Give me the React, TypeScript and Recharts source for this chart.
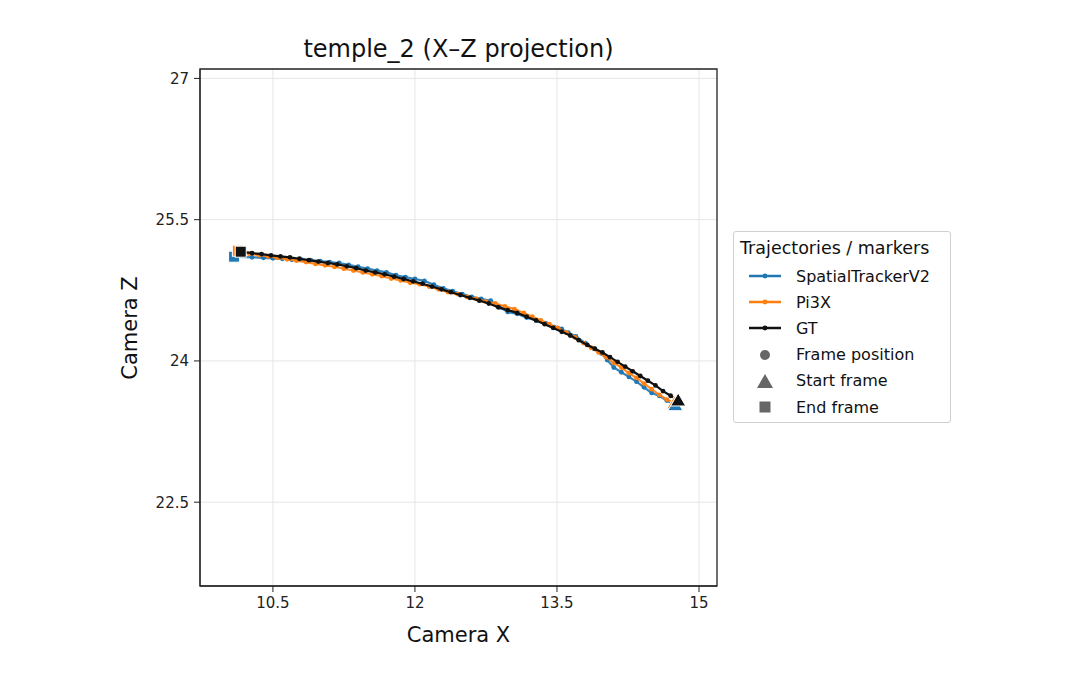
import { ScatterChart, Scatter, XAxis, YAxis, CartesianGrid, ReferenceArea } from 'recharts'

// ── Data (camera X, camera Z), frame order: start → end ──────────────────────

const GT: [number, number][] = [
  [14.78, 23.58], [14.70, 23.63], [14.62, 23.68], [14.54, 23.74], [14.46, 23.79],
  [14.38, 23.84], [14.30, 23.89], [14.22, 23.94], [14.14, 23.99], [14.06, 24.04],
  [13.98, 24.09], [13.90, 24.13], [13.82, 24.17], [13.73, 24.22], [13.64, 24.27],
  [13.55, 24.31], [13.46, 24.35], [13.37, 24.39], [13.28, 24.43], [13.18, 24.47],
  [13.08, 24.51], [12.98, 24.54], [12.88, 24.57], [12.78, 24.61], [12.68, 24.64],
  [12.58, 24.67], [12.48, 24.70], [12.38, 24.73], [12.28, 24.76], [12.18, 24.79],
  [12.08, 24.82], [11.98, 24.845], [11.88, 24.87], [11.78, 24.895], [11.68, 24.92],
  [11.58, 24.94], [11.48, 24.96], [11.38, 24.985], [11.28, 25.005], [11.18, 25.025],
  [11.08, 25.04], [10.98, 25.055], [10.88, 25.07], [10.78, 25.085], [10.68, 25.10],
  [10.58, 25.11], [10.48, 25.12], [10.38, 25.135], [10.28, 25.145], [10.16, 25.16],
]

const PI3X: [number, number][] = [
  [14.74, 23.55], [14.66, 23.59], [14.58, 23.64], [14.50, 23.70], [14.42, 23.76],
  [14.34, 23.82], [14.26, 23.87], [14.18, 23.93], [14.10, 23.98], [14.02, 24.04],
  [13.94, 24.09], [13.86, 24.14], [13.78, 24.19], [13.69, 24.25], [13.60, 24.30],
  [13.51, 24.35], [13.42, 24.39], [13.33, 24.43], [13.24, 24.47], [13.15, 24.51],
  [13.05, 24.55], [12.95, 24.58], [12.85, 24.61], [12.75, 24.63], [12.65, 24.66],
  [12.55, 24.68], [12.45, 24.71], [12.35, 24.73], [12.25, 24.76], [12.15, 24.79],
  [12.05, 24.815], [11.95, 24.83], [11.85, 24.855], [11.75, 24.875], [11.65, 24.90],
  [11.55, 24.92], [11.45, 24.94], [11.35, 24.96], [11.25, 24.98], [11.15, 25.00],
  [11.05, 25.015], [10.95, 25.03], [10.85, 25.05], [10.75, 25.065], [10.65, 25.08],
  [10.55, 25.095], [10.45, 25.11], [10.35, 25.125], [10.25, 25.14], [10.13, 25.17],
]

const STV2: [number, number][] = [
  [14.75, 23.53], [14.66, 23.58], [14.58, 23.63], [14.50, 23.66], [14.42, 23.72],
  [14.34, 23.78], [14.26, 23.83], [14.18, 23.88], [14.10, 23.93], [14.03, 24.01],
  [13.97, 24.08], [13.89, 24.13], [13.80, 24.19], [13.70, 24.26], [13.62, 24.30],
  [13.55, 24.34], [13.47, 24.36], [13.38, 24.40], [13.28, 24.43], [13.18, 24.46],
  [13.08, 24.50], [12.98, 24.52], [12.90, 24.57], [12.80, 24.64], [12.70, 24.66],
  [12.60, 24.68], [12.50, 24.71], [12.40, 24.74], [12.30, 24.77], [12.20, 24.81],
  [12.10, 24.85], [12.00, 24.87], [11.90, 24.89], [11.80, 24.91], [11.70, 24.94],
  [11.60, 24.96], [11.50, 24.98], [11.40, 25.00], [11.30, 25.02], [11.20, 25.04],
  [11.10, 25.05], [11.00, 25.06], [10.90, 25.07], [10.80, 25.075], [10.70, 25.075],
  [10.60, 25.085], [10.50, 25.09], [10.40, 25.095], [10.28, 25.10], [10.09, 25.107],
]

const X_TICKS = [10.5, 12, 13.5, 15]
const Y_TICKS = [22.5, 24, 25.5, 27]
const X_DOMAIN: [number, number] = [9.73, 15.19]
const Y_DOMAIN: [number, number] = [21.61, 27.1]

const SERIES = [
  { name: 'SpatialTrackerV2', color: '#1f77b4', pts: STV2 },
  { name: 'Pi3X', color: '#ff7f0e', pts: PI3X },
  { name: 'GT', color: '#111111', pts: GT },
]
// start markers: orange under blue under black
const START_ORDER = [SERIES[1], SERIES[0], SERIES[2]]

// ── Helpers ───────────────────────────────────────────────────────────────────

const toRows = (pts: [number, number][]) => pts.map(([x, y]) => ({ x, y }))
const FONT = 'DejaVu Sans, sans-serif'
const TICK = { fontSize: 15, fill: '#222', fontFamily: FONT }

const dot = (color: string) => (p: any) => <circle cx={p.cx} cy={p.cy} r={2.4} fill={color} />
const tri = (color: string) => (p: any) => (
  <path d={`M${p.cx},${p.cy - 7.5} L${p.cx + 7.5},${p.cy + 5.5} L${p.cx - 7.5},${p.cy + 5.5} Z`} fill={color} stroke="#fff" strokeWidth={1} />
)
const sq = (color: string) => (p: any) => (
  <rect x={p.cx - 5.5} y={p.cy - 5.5} width={11} height={11} fill={color} stroke="#fff" strokeWidth={1} />
)

function LegendRow({ kind, color, label }: { kind: string; color: string; label: string }) {
  let sym: React.ReactNode
  if (kind === 'line') sym = (
    <svg width={34} height={10}><line x1={1} y1={5} x2={33} y2={5} stroke={color} strokeWidth={2.5} /><circle cx={17} cy={5} r={2.4} fill={color} /></svg>
  )
  else if (kind === 'circle') sym = <svg width={34} height={12}><circle cx={17} cy={6} r={5} fill="#666" /></svg>
  else if (kind === 'tri') sym = <svg width={34} height={16}><path d="M17,1 L25,15 L9,15 Z" fill="#666" /></svg>
  else sym = <svg width={34} height={12}><rect x={11.5} y={0.5} width={11} height={11} fill="#666" /></svg>
  return (
    <div style={{ display: 'flex', alignItems: 'center', height: 26.2 }}>
      <div style={{ width: 34, display: 'flex', justifyContent: 'center' }}>{sym}</div>
      <span style={{ marginLeft: 14, fontSize: 16, color: '#111', whiteSpace: 'nowrap' }}>{label}</span>
    </div>
  )
}

// ── Chart ─────────────────────────────────────────────────────────────────────

export default function App() {
  return (
    <div style={{ position: 'absolute', left: 0, top: 0, width: 1080, height: 690, background: '#fff', fontFamily: FONT }}>
      <ScatterChart width={1080} height={690} margin={{ top: 69, right: 363, bottom: 64, left: 140 }}>
        <CartesianGrid stroke="#e6e6e6" strokeWidth={1} horizontalValues={Y_TICKS} verticalValues={X_TICKS} />
        <XAxis type="number" dataKey="x" domain={X_DOMAIN} ticks={X_TICKS} allowDataOverflow
          tick={TICK} tickLine={{ stroke: '#222' }} tickSize={6} tickMargin={5} axisLine={{ stroke: '#222' }} height={40} />
        <YAxis type="number" dataKey="y" domain={Y_DOMAIN} ticks={Y_TICKS} allowDataOverflow
          tick={TICK} tickLine={{ stroke: '#222' }} tickSize={6} tickMargin={5} axisLine={{ stroke: '#222' }} width={60} />
        <ReferenceArea x1={X_DOMAIN[0]} x2={X_DOMAIN[1]} y1={Y_DOMAIN[0]} y2={Y_DOMAIN[1]} fill="none" stroke="#222" strokeWidth={1.3} fillOpacity={0} />
        {SERIES.map(s => (
          <Scatter key={s.name} name={s.name} data={toRows(s.pts)} fill={s.color}
            line={{ stroke: s.color, strokeWidth: 2.2, strokeOpacity: s.name === 'GT' ? 1 : 0.9 }}
            shape={dot(s.color)} isAnimationActive={false} />
        ))}
        {START_ORDER.map(s => (
          <Scatter key={s.name + '-start'} data={toRows([s.pts[0]])} shape={tri(s.color)} isAnimationActive={false} />
        ))}
        {SERIES.map(s => (
          <Scatter key={s.name + '-end'} data={toRows([s.pts[s.pts.length - 1]])} shape={sq(s.color)} isAnimationActive={false} />
        ))}
      </ScatterChart>

      <div style={{ position: 'absolute', left: 200, width: 517, top: 34, textAlign: 'center', fontSize: 24, lineHeight: '30px', color: '#111', whiteSpace: 'nowrap' }}>
        temple_2 (X–Z projection)
      </div>
      <div style={{ position: 'absolute', left: 200, width: 517, top: 622, textAlign: 'center', fontSize: 21, lineHeight: '26px', color: '#111' }}>
        Camera X
      </div>
      <div style={{ position: 'absolute', left: 130, top: 328, transform: 'translate(-50%, -50%) rotate(-90deg)', fontSize: 21, lineHeight: '26px', color: '#111', whiteSpace: 'nowrap' }}>
        Camera Z
      </div>

      <div style={{ position: 'absolute', left: 733, top: 231, width: 218, height: 192, boxSizing: 'border-box', border: '1px solid #d0d0d0', borderRadius: 3, background: '#fff', padding: '4px 0 0 14px' }}>
        <div style={{ fontSize: 17.5, lineHeight: '24px', color: '#111', marginLeft: -8, marginBottom: 3, whiteSpace: 'nowrap' }}>Trajectories / markers</div>
        {SERIES.map(s => <LegendRow key={s.name} kind="line" color={s.color} label={s.name} />)}
        <LegendRow kind="circle" color="#666" label="Frame position" />
        <LegendRow kind="tri" color="#666" label="Start frame" />
        <LegendRow kind="sq" color="#666" label="End frame" />
      </div>
    </div>
  )
}
